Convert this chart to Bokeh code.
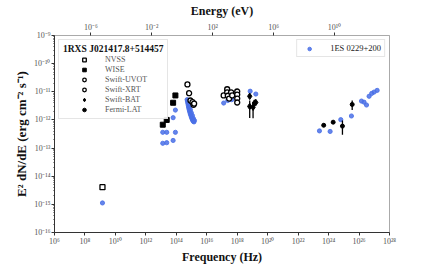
from bokeh.plotting import figure
from bokeh.models import (LogAxis, Range1d, LogScale, FixedTicker, CustomJSTickFormatter,
                          Legend, LegendItem)
from bokeh.embed import file_html
from bokeh.resources import INLINE

# ---------------- data (log10 values) ----------------
nvss_lognu = [9.15]
nvss_logf = [-14.39]

wise_lognu = [13.94, 13.79, 13.37, 13.11]
wise_logf = [-11.13, -11.39, -12.00, -12.17]

uvot_lognu = [14.73, 14.84, 14.93, 15.06, 15.13, 15.17]
uvot_logf = [-10.74, -11.05, -11.31, -11.37, -11.46, -11.42]

xrt_lognu = [17.11, 17.34, 17.34, 17.38, 17.47, 17.60, 17.67, 18.00, 18.00, 18.00, 18.00]
xrt_logf = [-11.13, -10.91, -11.02, -11.14, -11.24, -11.02, -11.13, -10.99, -11.10, -11.24, -11.38]

bat_lognu = [18.82, 18.82, 19.04, 19.13, 19.22]
bat_logf = [-11.16, -11.52, -11.55, -11.40, -11.38]
bat_loglo = [-11.20, -11.93, -11.94, -11.44, -11.42]
bat_loghi = [-11.12, -11.31, -11.39, -11.36, -11.34]

lat_lognu = [23.68, 24.30, 24.91, 25.55]
lat_logf = [-12.19, -12.08, -12.22, -11.45]
lat_loglo = [-12.25, -12.14, -12.53, -11.65]
lat_loghi = [-12.13, -12.02, -12.02, -11.31]

ies_lognu = [9.15,
             13.94, 13.79, 13.94, 13.37, 13.11, 13.11, 13.37, 13.79,
             14.71, 14.73, 14.75, 14.78, 14.80, 14.83, 14.86, 14.90, 14.93, 14.96,
             14.99, 15.03, 15.06, 15.09, 15.12, 15.16,
             14.83, 14.86, 14.93, 14.99, 15.06, 15.12, 15.19,
             17.11, 17.38, 17.64,
             18.85, 19.22,
             23.40, 24.10, 24.80, 25.50, 26.16, 26.33, 26.49, 26.66, 26.83, 26.99, 27.19]
ies_logf = [-14.95,
            -11.65, -11.92, -12.44, -12.44, -12.44, -12.83, -12.81, -12.73,
            -11.28, -11.33, -11.40, -11.47, -11.54, -11.61, -11.68, -11.75, -11.80, -11.85,
            -11.90, -11.95, -11.99, -12.02, -12.05, -12.07,
            -11.44, -11.54, -11.64, -11.75, -11.85, -11.95, -12.02,
            -11.40, -11.31, -11.28,
            -10.98, -11.08,
            -12.39, -12.41, -11.99, -11.86, -11.33, -11.37, -11.47, -11.16, -11.06, -11.01, -10.95]

x_ticks_exp = list(range(6, 29, 2))
y_ticks_exp = list(range(-16, -8))
e_ticks_exp = [-6, -2, 2, 6, 10]

H_EV = 4.135667e-15  # Planck constant in eV s

def p10(a):
    return [10.0 ** v for v in a]

SERIF = "Liberation Serif"
BLUE = "#4a70e6"

p = figure(width=432, height=266, x_axis_type="log", y_axis_type="log",
           x_range=Range1d(1e6, 1e28), y_range=Range1d(1e-16, 1e-9),
           output_backend="svg", toolbar_location=None,
           min_border_left=54, min_border_right=43, min_border_top=32, min_border_bottom=30)
p.grid.visible = False
p.outline_line_color = "#aaaaaa"
p.background_fill_color = "white"
p.border_fill_color = "white"

fmt = CustomJSTickFormatter(code="""
const e = Math.round(Math.log10(tick));
const m = {"-":"\u207b","0":"\u2070","1":"\u00b9","2":"\u00b2","3":"\u00b3","4":"\u2074",
           "5":"\u2075","6":"\u2076","7":"\u2077","8":"\u2078","9":"\u2079"};
return "10" + String(e).split("").map(c => m[c]).join("");
""")

def style_axis(ax, line_color="#333333"):
    ax.formatter = fmt
    ax.major_label_text_font = SERIF
    ax.major_label_text_font_size = "8px"
    ax.major_label_text_color = "#555555"
    ax.axis_label_text_font = SERIF
    ax.axis_label_text_font_style = "bold"
    ax.axis_label_text_font_size = "12px"
    ax.axis_label_text_color = "#111111"
    ax.axis_line_color = line_color
    ax.major_tick_line_color = "#333333"
    ax.minor_tick_line_color = "#333333"
    ax.major_tick_out = 3
    ax.major_tick_in = 0
    ax.minor_tick_out = 1
    ax.minor_tick_in = 0
    ax.major_label_standoff = 1
    ax.axis_label_standoff = 2

xax = p.xaxis[0]
xax.ticker = FixedTicker(ticks=p10(x_ticks_exp), minor_ticks=[])
style_axis(xax)
xax.axis_label = "Frequency (Hz)"
xax.axis_label_standoff = 1

yax = p.yaxis[0]
minor_y = [m * 10.0 ** e for e in y_ticks_exp[:-1] for m in range(2, 10)]
yax.ticker = FixedTicker(ticks=p10(y_ticks_exp), minor_ticks=minor_y)
style_axis(yax)
yax.axis_label = "E\u00b2 dN/dE (erg cm\u207b\u00b2 s\u207b\u00b9)"
yax.axis_label_text_font_size = "13px"
yax.axis_label_standoff = 2

p.extra_x_ranges = {"energy": Range1d(1e6 * H_EV, 1e28 * H_EV)}
p.extra_x_scales = {"energy": LogScale()}
top = LogAxis(x_range_name="energy", axis_label="Energy (eV)")
top.ticker = FixedTicker(ticks=p10(e_ticks_exp), minor_ticks=[])
style_axis(top, line_color="#aaaaaa")
p.add_layout(top, "above")

# ---------------- glyphs ----------------
r_ies = p.scatter(p10(ies_lognu), p10(ies_logf), marker="circle", size=4.2,
                  fill_color=BLUE, line_color=BLUE, fill_alpha=0.85, line_alpha=0.85)

p.segment(p10(bat_lognu), p10(bat_loglo), p10(bat_lognu), p10(bat_loghi),
          line_color="black", line_width=1.3)
p.segment(p10(lat_lognu), p10(lat_loglo), p10(lat_lognu), p10(lat_loghi),
          line_color="black", line_width=1.3)

r_nvss = p.scatter(p10(nvss_lognu), p10(nvss_logf), marker="square", size=5,
                   fill_color="white", line_color="black", line_width=1.3)
r_wise = p.scatter(p10(wise_lognu), p10(wise_logf), marker="square", size=5,
                   fill_color="black", line_color="black")
r_uvot = p.scatter(p10(uvot_lognu), p10(uvot_logf), marker="circle", size=5,
                   fill_color="white", line_color="black", line_width=1.3)
r_xrt = p.scatter(p10(xrt_lognu), p10(xrt_logf), marker="circle", size=5,
                  fill_color="white", line_color="black", line_width=1.3)
r_bat = p.scatter(p10(bat_lognu), p10(bat_logf), marker="diamond", size=6.5,
                  fill_color="black", line_color="black")
r_lat = p.scatter(p10(lat_lognu), p10(lat_logf), marker="circle", size=4,
                  fill_color="black", line_color="black")

def style_legend(leg):
    leg.label_text_font = SERIF
    leg.label_text_font_size = "8px"
    leg.label_text_color = "#555555"
    leg.label_height = 9
    leg.glyph_height = 9
    leg.spacing = 1
    leg.padding = 3
    leg.margin = 4
    leg.border_line_color = "#cccccc"
    leg.background_fill_alpha = 0.9

leg1 = Legend(items=[LegendItem(label="NVSS", renderers=[r_nvss]),
                     LegendItem(label="WISE", renderers=[r_wise]),
                     LegendItem(label="Swift-UVOT", renderers=[r_uvot]),
                     LegendItem(label="Swift-XRT", renderers=[r_xrt]),
                     LegendItem(label="Swift-BAT", renderers=[r_bat]),
                     LegendItem(label="Fermi-LAT", renderers=[r_lat])],
              location="top_left", title="1RXS J021417.8+514457")
style_legend(leg1)
leg1.title_text_font = SERIF
leg1.title_text_font_style = "bold"
leg1.title_text_font_size = "9.5px"
leg1.title_text_color = "#111111"
leg1.title_standoff = 1
leg1.padding = 4
leg1.label_standoff = 0
leg1.glyph_width = 42
p.add_layout(leg1)

leg2 = Legend(items=[LegendItem(label="1ES 0229+200", renderers=[r_ies])],
              location="top_right")
style_legend(leg2)
leg2.label_text_color = "#222222"
leg2.label_text_font_size = "8.5px"
leg2.label_standoff = 12
leg2.glyph_width = 18
leg2.padding = 3
p.add_layout(leg2)

open("out.html", "w").write(file_html(p, INLINE))
